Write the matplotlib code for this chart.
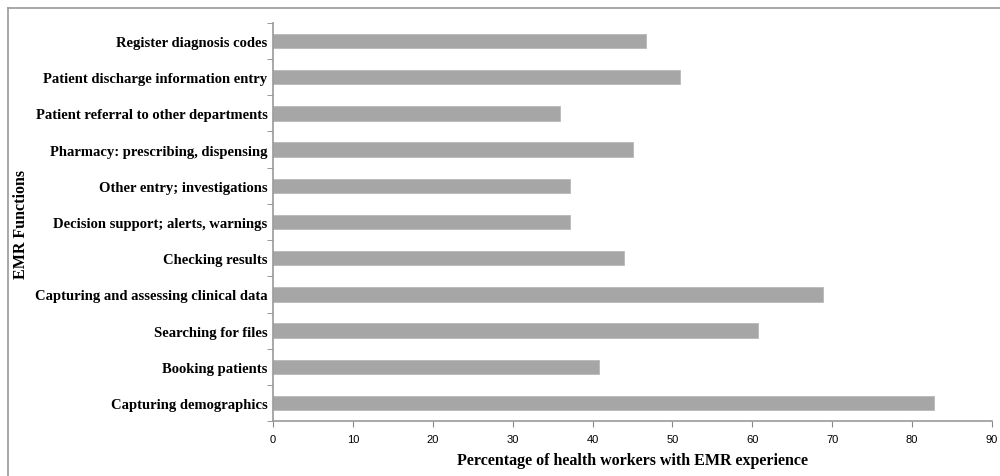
import matplotlib.pyplot as plt
from matplotlib.lines import Line2D

categories = [
    "Capturing demographics",
    "Booking patients",
    "Searching for files",
    "Capturing and assessing clinical data",
    "Checking results",
    "Decision support; alerts, warnings",
    "Other entry; investigations",
    "Pharmacy: prescribing, dispensing",
    "Patient referral to other departments",
    "Patient discharge information entry",
    "Register diagnosis codes",
]
values = [82.8, 40.8, 60.7, 68.8, 43.9, 37.2, 37.2, 45.0, 35.9, 51.0, 46.7]
xticks = list(range(0, 100, 10))

serif = ["Liberation Serif", "DejaVu Serif"]

fig = plt.figure(figsize=(10, 4.77), dpi=100)
ax = fig.add_axes([0.273, 0.115, 0.719, 0.835])

ypos = list(range(len(categories)))
ax.barh(ypos, values, height=0.4, color="#a6a6a6", edgecolor="#b8b8b8", linewidth=0.6)

ax.set_xlim(0, 90)
ax.set_ylim(-0.5, len(categories) - 0.5)
ax.set_xticks(xticks)
ax.set_xticklabels([str(t) for t in xticks], fontsize=8, family="Liberation Sans")

ax.set_yticks(ypos)
ax.set_yticklabels(categories, fontsize=10.5, family=serif, fontweight="bold")
ax.set_yticks([p + 0.5 for p in [-1] + ypos], minor=True)
ax.tick_params(axis="y", which="major", length=0, pad=4)
ax.tick_params(axis="y", which="minor", length=4, color="#888888", direction="out")
ax.tick_params(axis="x", length=4, color="#888888", direction="out", pad=5)

for s in ["top", "right"]:
    ax.spines[s].set_visible(False)
for s in ["left", "bottom"]:
    ax.spines[s].set_color("#999999")
    ax.spines[s].set_linewidth(1.2)

ax.set_xlabel("Percentage of health workers with EMR experience", fontsize=11.5,
              family=serif, fontweight="bold", labelpad=6)
fig.text(0.021, 0.53, "EMR Functions", rotation=90, ha="center", va="center",
         fontsize=11.5, family=serif, fontweight="bold")

# outer chart border (partly cropped in the source)
fig.add_artist(Line2D([0.008, 0.008], [0.0, 0.981], color="#999999", lw=1.2))
fig.add_artist(Line2D([0.008, 1.0], [0.981, 0.981], color="#999999", lw=1.2))

fig.savefig("out.png", dpi=100)
